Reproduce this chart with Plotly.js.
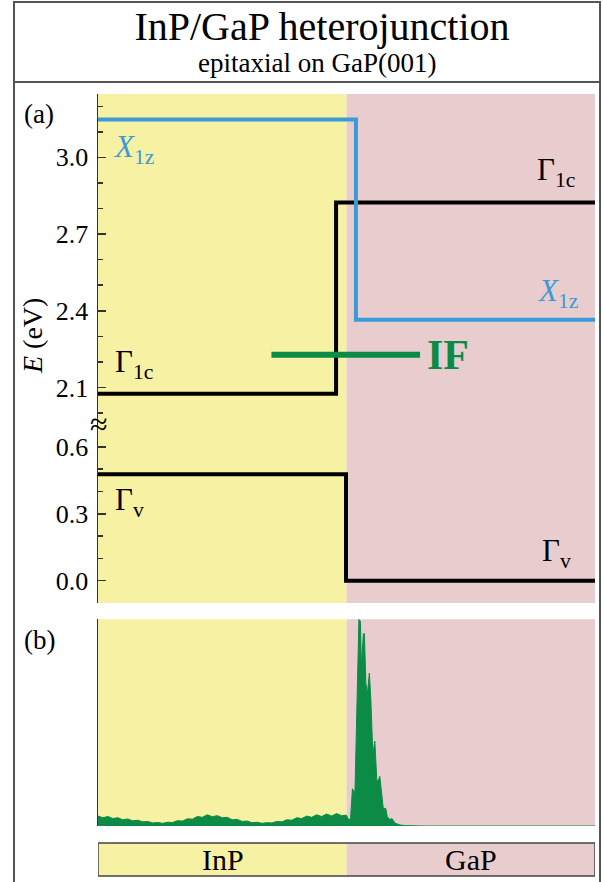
<!DOCTYPE html>
<html>
<head>
<meta charset="utf-8">
<script src="https://cdn.plot.ly/plotly-3.0.1.min.js"></script>
<style>
html,body{margin:0;padding:0;background:#fff;}
#chart{width:603px;height:882px;}
</style>
</head>
<body>
<div id="chart"></div>
<script>
// ---------- data ----------
// position across the heterojunction (0 = left edge of InP, 0.5 = interface, 1 = right edge of GaP)
const regions = ["InP", "GaP"];
const regionEdges = [0, 0.5, 1];

// band edges (eV), step profiles
const gamma1cX = [0, 0.479, 1];
const gamma1cE = [2.075, 2.824, 2.824];
const x1zX = [0, 0.519, 1];
const x1zE = [3.148, 2.365, 2.365];
const gammaVX = [0, 0.499, 1];
const gammaVE = [0.477, 0.0, 0.0];
const ifX = [0.349, 0.648];
const ifE = [2.228, 2.228];

// tick values
const lowerTicks = [0.0, 0.3, 0.6];
const upperTicks = [2.1, 2.4, 2.7, 3.0];

// panel (b): interface-state density (normalised)
const ldosX = [0.00,0.01,0.02,0.03,0.04,0.05,0.06,0.07,0.08,0.09,
               0.10,0.11,0.12,0.13,0.14,0.15,0.16,0.17,0.18,0.19,
               0.20,0.21,0.22,0.23,0.24,0.25,0.26,0.27,0.28,0.29,
               0.30,0.31,0.32,0.33,0.34,0.35,0.36,0.37,0.38,0.39,
               0.40,0.41,0.42,0.43,0.44,0.45,0.46,0.47,0.48,0.49,
               0.50,0.503,0.508,0.512,0.517,0.520,0.525,0.528,0.530,0.534,
               0.536,0.539,0.542,0.546,0.549,0.553,0.557,0.561,0.564,0.567,
               0.571,0.574,0.579,0.582,0.588,0.591,0.598,0.608,0.618,0.648,1.00];
const ldosY = [0.048,0.040,0.046,0.036,0.040,0.030,0.034,0.025,0.028,0.020,
               0.022,0.015,0.017,0.013,0.018,0.017,0.026,0.024,0.035,0.033,
               0.046,0.042,0.054,0.045,0.050,0.040,0.042,0.030,0.032,0.022,
               0.024,0.016,0.018,0.013,0.016,0.015,0.022,0.020,0.030,0.028,
               0.040,0.036,0.048,0.042,0.054,0.046,0.058,0.048,0.060,0.050,
               0.052,0.035,0.030,0.180,0.160,0.450,1.000,0.990,0.770,0.930,
               0.930,0.690,0.640,0.740,0.610,0.350,0.410,0.220,0.220,0.240,
               0.130,0.085,0.085,0.045,0.030,0.037,0.013,0.005,0.002,0.000,0.000];

// ---------- helpers (pixel -> paper) ----------
const W = 603, H = 882;
const px = x => x / W;
const py = y => 1 - y / H;

const INK = '#333333';
const YELLOW = '#f7f1a3';
const PINK = '#e9cdce';
const BLUE = '#3a9bd8';
const GREEN = '#0b8b45';
const FONT = 'Liberation Serif';

const traces = [
  {x: gamma1cX, y: gamma1cE, xaxis: 'x', yaxis: 'y2', mode: 'lines',
   line: {color: '#000', width: 4, shape: 'hv'}, hoverinfo: 'skip'},
  {x: x1zX, y: x1zE, xaxis: 'x', yaxis: 'y2', mode: 'lines',
   line: {color: BLUE, width: 4, shape: 'hv'}, hoverinfo: 'skip'},
  {x: ifX, y: ifE, xaxis: 'x', yaxis: 'y2', mode: 'lines',
   line: {color: GREEN, width: 6}, hoverinfo: 'skip'},
  {x: gammaVX, y: gammaVE, xaxis: 'x', yaxis: 'y', mode: 'lines',
   line: {color: '#000', width: 4, shape: 'hv'}, hoverinfo: 'skip'},
  {x: ldosX, y: ldosY, xaxis: 'x2', yaxis: 'y3', mode: 'lines',
   fill: 'tozeroy', fillcolor: GREEN, line: {color: GREEN, width: 1}, hoverinfo: 'skip'}
];

function yAxis(extra) {
  return Object.assign({
    showline: true, linecolor: INK, linewidth: 1.5, mirror: false,
    ticks: 'inside', ticklen: 8, tickwidth: 1.5, tickcolor: INK,
    tickformat: '.1f', showgrid: false, zeroline: false,
    tickfont: {family: FONT, size: 26, color: '#000'},
    minor: {dtick: 0.1, ticks: 'inside', ticklen: 5, tickwidth: 1.5, tickcolor: INK, showgrid: false},
    ticklabelstandoff: 3
  }, extra);
}

const panelA = [py(603), py(94)];
const panelB = [py(826), py(619.3)];

const shapes = [];
// panel backgrounds
[[panelA[0], panelA[1]], [panelB[0], panelB[1]], [py(876), py(843)]].forEach(([y0, y1], k) => {
  const xr = k === 1 ? 'x2' : 'x';
  shapes.push({type: 'rect', xref: xr, yref: 'paper', x0: regionEdges[0], x1: regionEdges[1], y0, y1,
               fillcolor: YELLOW, line: {width: 0}, layer: 'below'});
  shapes.push({type: 'rect', xref: xr, yref: 'paper', x0: regionEdges[1], x1: regionEdges[2], y0, y1,
               fillcolor: PINK, line: {width: 0}, layer: 'below'});
});
// legend bar outline
shapes.push({type: 'rect', xref: 'x', yref: 'paper', x0: 0, x1: 1, y0: py(876), y1: py(843),
             line: {color: '#444', width: 1.5}, fillcolor: 'rgba(0,0,0,0)'});
// outer frame and title separator
shapes.push({type: 'rect', xref: 'paper', yref: 'paper', x0: px(14), x1: px(600), y0: py(895), y1: py(2),
             line: {color: '#555', width: 2}, fillcolor: 'rgba(0,0,0,0)'});
shapes.push({type: 'line', xref: 'paper', yref: 'paper', x0: px(14), x1: px(600), y0: py(82), y1: py(82),
             line: {color: '#555', width: 2}});

const ann = (text, x, y, opts = {}) => Object.assign({
  text, x: px(x), y: py(y), xref: 'paper', yref: 'paper', showarrow: false,
  xanchor: 'left', yanchor: 'middle', font: {family: FONT, size: 30, color: '#000'}
}, opts);

const annotations = [
  ann('epitaxial on GaP(001)', 317, 63, {xanchor: 'center', font: {family: FONT, size: 27, color: '#000'}}),
  ann('(a)', 22, 114, {font: {family: FONT, size: 27, color: '#000'}}),
  ann('(b)', 22, 640, {font: {family: FONT, size: 27, color: '#000'}}),
  ann('<i>E</i> (eV)', 32, 336, {xanchor: 'center', textangle: -90, font: {family: FONT, size: 28, color: '#000'}}),
  ann('≈', 99, 424, {xanchor: 'center', font: {family: FONT, size: 32, color: '#000'}}),
  ann('<i>X</i><sub>1z</sub>', 111, 149, {font: {family: FONT, size: 31, color: BLUE}}),
  ann('<i>X</i><sub>1z</sub>', 535, 293, {font: {family: FONT, size: 31, color: BLUE}}),
  ann('Γ<sub>1c</sub>', 113, 364, {font: {family: FONT, size: 31, color: '#000'}}),
  ann('Γ<sub>1c</sub>', 535, 172, {font: {family: FONT, size: 31, color: '#000'}}),
  ann('Γ<sub>v</sub>', 113, 502, {font: {family: FONT, size: 31, color: '#000'}}),
  ann('Γ<sub>v</sub>', 540, 553, {font: {family: FONT, size: 31, color: '#000'}}),
  ann('<b>IF</b>', 425, 355, {font: {family: FONT, size: 42, color: GREEN}}),
  ann(regions[0], 222.5, 859, {xanchor: 'center', font: {family: FONT, size: 30, color: '#000'}}),
  ann(regions[1], 471, 859, {xanchor: 'center', font: {family: FONT, size: 30, color: '#000'}})
];

const layout = {
  width: W, height: H,
  margin: {l: 0, r: 0, t: 0, b: 0},
  paper_bgcolor: '#fff', plot_bgcolor: 'rgba(0,0,0,0)',
  showlegend: false,
  font: {family: FONT, color: '#000'},
  title: {
    text: 'InP/GaP heterojunction',
    x: px(322), xanchor: 'center', y: py(26), yanchor: 'middle', xref: 'paper', yref: 'paper',
    font: {family: FONT, size: 40, color: '#000'}
  },
  xaxis: {domain: [px(98), px(595)], range: [0, 1], anchor: 'y', visible: false},
  xaxis2: {domain: [px(98), px(595)], range: [0, 1], anchor: 'y3', visible: false},
  yaxis: yAxis({domain: [panelA[0], py(424)], range: [-0.1, 0.7027], anchor: 'x',
                tickmode: 'array', tickvals: lowerTicks}),
  yaxis2: yAxis({domain: [py(424), panelA[1]], range: [1.957, 3.248], anchor: 'x',
                 tickmode: 'array', tickvals: upperTicks}),
  yaxis3: {domain: panelB, range: [0, 1.0], anchor: 'x2', showline: true, linecolor: INK, linewidth: 1.5,
           ticks: '', showticklabels: false, showgrid: false, zeroline: false},
  shapes, annotations
};

Plotly.newPlot('chart', traces, layout, {staticPlot: true, displayModeBar: false});
</script>
</body>
</html>
